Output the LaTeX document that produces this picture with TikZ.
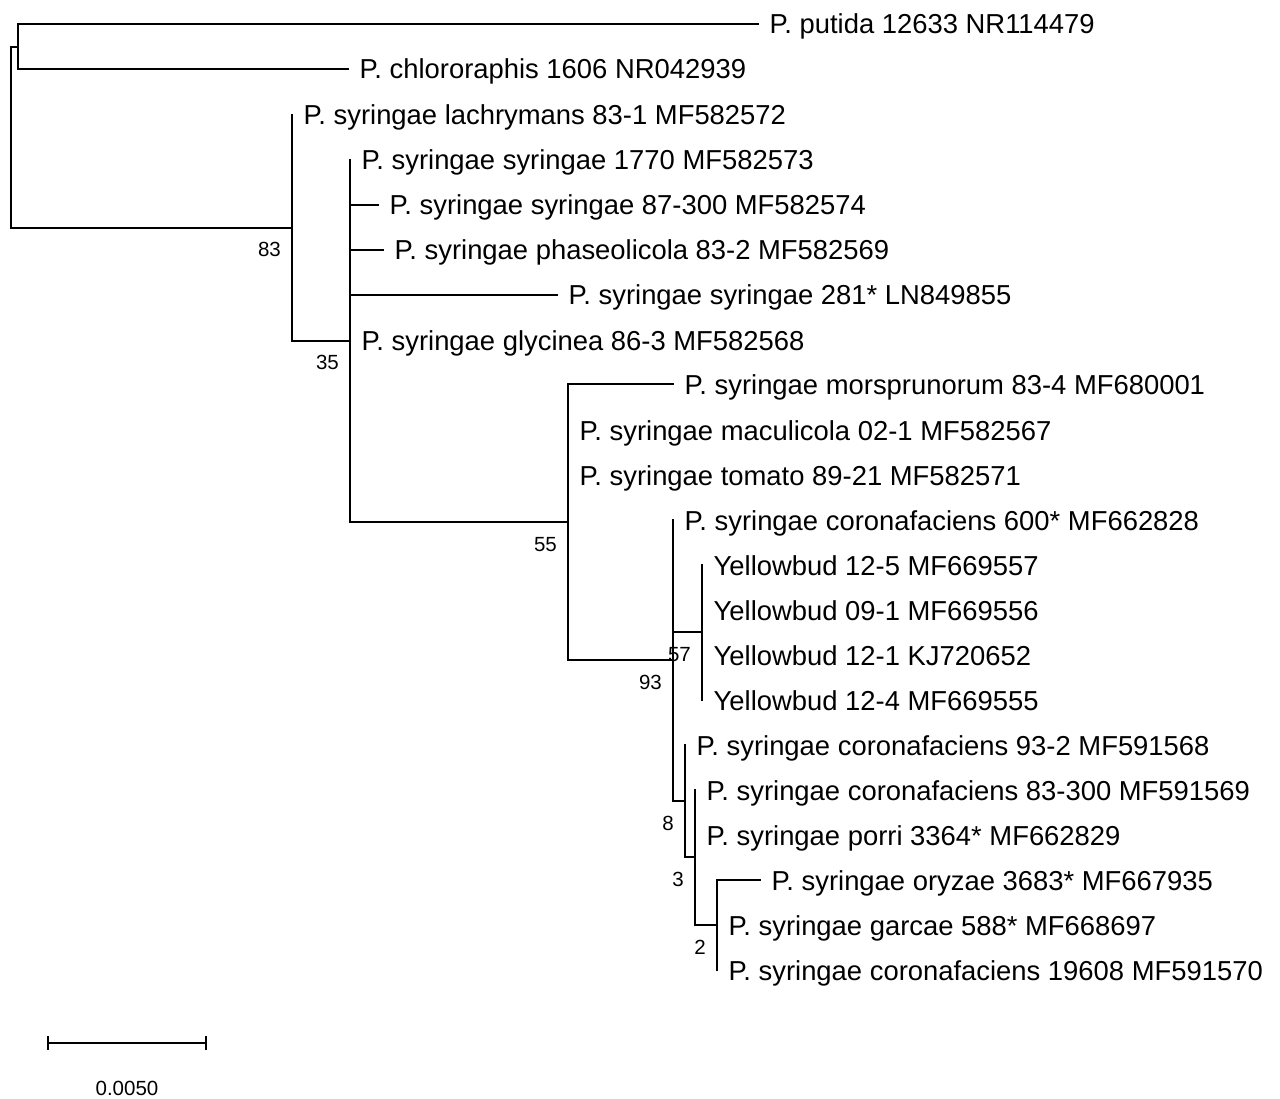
\documentclass[tikz,border=0pt]{standalone}
\usepackage{fontspec}
\setmainfont{Liberation Sans}
\newcommand\leaffont{\fontsize{27.4}{30}\selectfont}
\newcommand\bsfont{\fontsize{20.5}{22}\selectfont}
\begin{document}
\begin{tikzpicture}[x=1pt,y=-1pt,
  branch/.style={line width=1.8pt, line cap=rect},
  leaf/.style={anchor=base west, inner sep=0pt, font=\leaffont, xshift=11.5pt, yshift=-10pt},
  boot/.style={anchor=base east, inner sep=0pt, font=\bsfont, xshift=-11pt, yshift=-29pt},
  sblabel/.style={anchor=base, inner sep=0pt, font=\bsfont}]
\fill[white] (0,0) rectangle (1280,1099);
\useasboundingbox (0,0) rectangle (1280,1099);
% internal nodes
\coordinate (root) at (11,137);
\coordinate (og) at (18,47);
\coordinate (n83) at (292,228);
\coordinate (n35) at (350,341);
\coordinate (n55) at (568,522);
\coordinate (n93) at (673,660);
\coordinate (n57) at (702,632);
\coordinate (n8) at (685,801);
\coordinate (n3) at (695,857);
\coordinate (n2) at (717,925);
% tips
\coordinate (tputida) at (758,24);
\coordinate (tchloro) at (348,69);
\coordinate (tlach) at (292,115);
\coordinate (ts1770) at (350,160);
\coordinate (ts87) at (378,205);
\coordinate (tphas) at (383,250);
\coordinate (ts281) at (557,295);
\coordinate (tglyc) at (350,340);
\coordinate (tmors) at (673,384);
\coordinate (tmacu) at (568,430);
\coordinate (ttoma) at (568,475);
\coordinate (tc600) at (673,520);
\coordinate (ty125) at (702,565);
\coordinate (ty091) at (702,610);
\coordinate (ty121) at (702,655);
\coordinate (ty124) at (702,700);
\coordinate (tc932) at (685,745);
\coordinate (tc83) at (695,790);
\coordinate (tporri) at (695,835);
\coordinate (toryz) at (760,880);
\coordinate (tgarc) at (717,925);
\coordinate (tc196) at (717,970);
% branches
\draw[branch] (root) |- (og);
\draw[branch] (root) |- (n83);
\draw[branch] (og) |- (tputida);
\draw[branch] (og) |- (tchloro);
\draw[branch] (n83) |- (tlach);
\draw[branch] (n83) |- (n35);
\draw[branch] (n35) |- (ts1770);
\draw[branch] (n35) |- (ts87);
\draw[branch] (n35) |- (tphas);
\draw[branch] (n35) |- (ts281);
\draw[branch] (n35) |- (tglyc);
\draw[branch] (n35) |- (n55);
\draw[branch] (n55) |- (tmors);
\draw[branch] (n55) |- (tmacu);
\draw[branch] (n55) |- (ttoma);
\draw[branch] (n55) |- (n93);
\draw[branch] (n93) |- (tc600);
\draw[branch] (n93) |- (n57);
\draw[branch] (n93) |- (n8);
\draw[branch] (n57) |- (ty125);
\draw[branch] (n57) |- (ty124);
\draw[branch] (n8) |- (tc932);
\draw[branch] (n8) |- (n3);
\draw[branch] (n3) |- (tc83);
\draw[branch] (n3) |- (n2);
\draw[branch] (n2) |- (toryz);
\draw[branch] (n2) |- (tc196);
% leaf labels
\node[leaf] (lputida) at (tputida) {P. putida 12633 NR114479};
\node[leaf] (lchloro) at (tchloro) {P. chlororaphis 1606 NR042939};
\node[leaf] (llach) at (tlach) {P. syringae lachrymans 83-1 MF582572};
\node[leaf] (ls1770) at (ts1770) {P. syringae syringae 1770 MF582573};
\node[leaf] (ls87) at (ts87) {P. syringae syringae 87-300 MF582574};
\node[leaf] (lphas) at (tphas) {P. syringae phaseolicola 83-2 MF582569};
\node[leaf] (ls281) at (ts281) {P. syringae syringae 281* LN849855};
\node[leaf] (lglyc) at (tglyc) {P. syringae glycinea 86-3 MF582568};
\node[leaf] (lmors) at (tmors) {P. syringae morsprunorum 83-4 MF680001};
\node[leaf] (lmacu) at (tmacu) {P. syringae maculicola 02-1 MF582567};
\node[leaf] (ltoma) at (ttoma) {P. syringae tomato 89-21 MF582571};
\node[leaf] (lc600) at (tc600) {P. syringae coronafaciens 600* MF662828};
\node[leaf] (ly125) at (ty125) {Yellowbud 12-5 MF669557};
\node[leaf] (ly091) at (ty091) {Yellowbud 09-1 MF669556};
\node[leaf] (ly121) at (ty121) {Yellowbud 12-1 KJ720652};
\node[leaf] (ly124) at (ty124) {Yellowbud 12-4 MF669555};
\node[leaf] (lc932) at (tc932) {P. syringae coronafaciens 93-2 MF591568};
\node[leaf] (lc83) at (tc83) {P. syringae coronafaciens 83-300 MF591569};
\node[leaf] (lporri) at (tporri) {P. syringae porri 3364* MF662829};
\node[leaf] (loryz) at (toryz) {P. syringae oryzae 3683* MF667935};
\node[leaf] (lgarc) at (tgarc) {P. syringae garcae 588* MF668697};
\node[leaf] (lc196) at (tc196) {P. syringae coronafaciens 19608 MF591570};
% bootstrap values
\node[boot] (b83) at (n83) {83};
\node[boot] (b35) at (n35) {35};
\node[boot] (b55) at (n55) {55};
\node[boot] (b93) at (n93) {93};
\node[boot] (b57) at (n57) {57};
\node[boot] (b8) at (n8) {8};
\node[boot] (b3) at (n3) {3};
\node[boot] (b2) at (n2) {2};
% scale bar
\coordinate (sba) at (48,1043);
\coordinate (sbb) at (206,1043);
\draw[branch] (sba) -- (sbb);
\draw[line width=1.8pt] ([yshift=7pt]sba) -- ([yshift=-7pt]sba);
\draw[line width=1.8pt] ([yshift=7pt]sbb) -- ([yshift=-7pt]sbb);
\node[sblabel] (sbl) at (127,1095) {0.0050};
\end{tikzpicture}
\end{document}
